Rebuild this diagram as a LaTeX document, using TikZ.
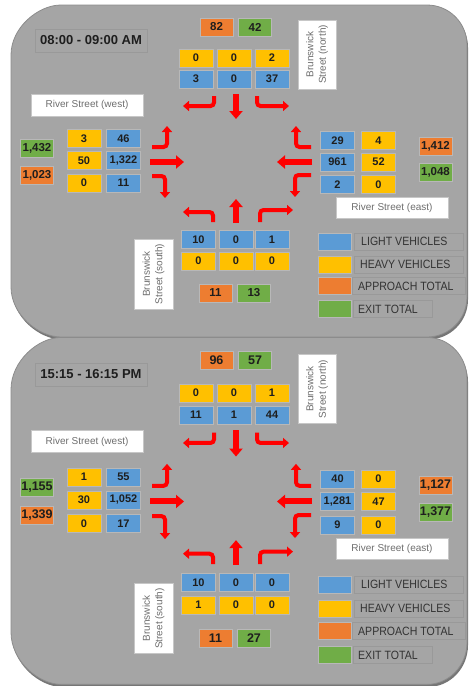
\documentclass[tikz,border=0pt]{standalone}
\usepackage{fontspec}
\usepackage{graphicx}
\setmainfont{Liberation Sans}
\usetikzlibrary{arrows.meta}
\definecolor{panelgray}{HTML}{A5A5A5}
\definecolor{panelline}{HTML}{8C8C8C}
\definecolor{shadowgray}{HTML}{767676}
\definecolor{lvblue}{HTML}{5B9BD5}
\definecolor{hvyellow}{HTML}{FFC000}
\definecolor{aporange}{HTML}{ED7D31}
\definecolor{exgreen}{HTML}{70AD47}
\definecolor{arrowred}{HTML}{FF0000}
\definecolor{labeltext}{HTML}{6E6E6E}
\definecolor{numtext}{HTML}{1E1E1E}
\definecolor{legtextc}{HTML}{333333}
\definecolor{faintline}{HTML}{999999}

\newcommand\panelpath{(11,55) .. controls (11,27.4) and (38.4,5) .. (61,5)
  -- (427,5) .. controls (449.1,5) and (467,22.9) .. (467,45)
  -- (467,297) .. controls (467,319.1) and (449.1,337) .. (427,337)
  -- (61,337) .. controls (38.4,337) and (11,314.6) .. (11,287) -- cycle}

\newcommand\staticpanel[2]{%
  \begin{scope}[shift={(1,2.5)}]
    \fill[shadowgray] \panelpath;
  \end{scope}
  \filldraw[fill=panelgray, draw=panelline, line width=0.8pt] \panelpath;
  \node[titlebox] (#1title) at (91,40.5) {#2};
  \node[streetlbl, minimum width=69pt, minimum height=38pt, rotate=90, align=center] (#1north) at (317,54.5) {Brunswick\\Street (north)};
  \node[streetlbl, minimum width=70pt, minimum height=39pt, rotate=90, align=center] (#1south) at (153.5,274) {Brunswick\\Street (south)};
  \node[streetlbl, minimum width=112pt, minimum height=22pt] (#1west) at (87,105) {River Street (west)};
  \node[streetlbl, minimum width=112pt, minimum height=21pt] (#1east) at (392,207.5) {River Street (east)};
  % legend
  \node[legsq, fill=lvblue] (#1sqlv) at (334.5,241.5) {};
  \node[legsq, fill=hvyellow] (#1sqhv) at (334.5,264.5) {};
  \node[legsq, fill=aporange] (#1sqap) at (334.5,286) {};
  \node[legsq, fill=exgreen] (#1sqex) at (334.5,309) {};
  \node[legbox, minimum width=109pt] (#1boxlv) at (408.5,241.5) {};
  \node[legbox, minimum width=109pt] (#1boxhv) at (408.5,264.5) {};
  \node[legbox, minimum width=113pt] (#1boxap) at (409,286) {};
  \node[legbox, minimum width=79pt] (#1boxex) at (392.5,309) {};
  \node[legtext] (#1txtlv) at (361,241.5) {\scalebox{0.88}[1]{LIGHT VEHICLES}};
  \node[legtext] (#1txthv) at (360,264.5) {\scalebox{0.88}[1]{HEAVY VEHICLES}};
  \node[legtext] (#1txtap) at (358,286) {\scalebox{0.88}[1]{APPROACH TOTAL}};
  \node[legtext] (#1txtex) at (358,309) {\scalebox{0.88}[1]{EXIT TOTAL}};
  % movement arrows
  \draw[turnarrow] (214,96) -- (214,106) -- (183,106);
  \draw[turnarrow] (257,96) -- (257,106) -- (289,106);
  \draw[turnarrow] (152,147) -- (167,147) -- (167,126);
  \draw[turnarrow] (152,176) -- (165,176) -- (165,198);
  \draw[turnarrow] (311,147) -- (296,147) -- (296,126);
  \draw[turnarrow] (311,175) -- (295,175) -- (295,197);
  \draw[turnarrow] (213,222) -- (213,212) -- (183,212);
  \draw[turnarrow] (260,222) -- (260,210) -- (293,210);
  \draw[thruarrow] (236,94) -- (236,119);
  \draw[thruarrow] (150,162) -- (184,162);
  \draw[thruarrow] (312,162) -- (277,162);
  \draw[thruarrow] (236,223) -- (236,199);
}

\begin{document}
\begin{tikzpicture}[x=1pt,y=-1pt,
  box/.style={draw=faintline!70!white, line width=0.4pt, inner sep=0pt, text=numtext},
  veh/.style={box, minimum width=34pt, minimum height=18pt, font=\bfseries\fontsize{11}{11}\selectfont},
  lv/.style={veh, fill=lvblue},
  hv/.style={veh, fill=hvyellow},
  tot/.style={box, minimum width=33pt, minimum height=18pt, font=\bfseries\fontsize{11.5}{11.5}\selectfont},
  ap/.style={tot, fill=aporange},
  ex/.style={tot, fill=exgreen},
  titlebox/.style={draw=faintline, line width=0.5pt, fill=panelgray, minimum width=112pt, minimum height=23pt, inner sep=0pt, text=numtext, font=\bfseries\fontsize{13}{13}\selectfont},
  streetlbl/.style={draw=black!22, line width=1pt, fill=white, inner sep=0pt, text=labeltext, font=\fontsize{10}{12.5}\selectfont},
  legsq/.style={box, minimum width=33pt, minimum height=17pt},
  legbox/.style={draw=faintline, line width=0.5pt, minimum height=17pt, inner sep=0pt},
  legtext/.style={anchor=west, inner sep=0pt, text=legtextc, font=\fontsize{12}{12}\selectfont},
  turnarrow/.style={draw=arrowred, line width=4pt, rounded corners=3.5pt, -{Triangle[length=6pt,width=10pt]}},
  thruarrow/.style={draw=arrowred, line width=6pt, -{Triangle[length=8pt,width=13pt]}}]
\useasboundingbox (0,0) rectangle (470,686);

% ---------------- morning panel ----------------
\begin{scope}
\staticpanel{a}{08:00 - 09:00 AM}
\node[ap] (aNap) at (216.5,27) {82};
\node[ex] (aNex) at (255,27) {42};
\node[hv] (aNh1) at (196,58) {0};
\node[hv] (aNh2) at (234,58) {0};
\node[hv] (aNh3) at (272,58) {2};
\node[lv] (aNl1) at (196,79) {3};
\node[lv] (aNl2) at (234,79) {0};
\node[lv] (aNl3) at (272,79) {37};
\node[hv] (aWh1) at (84,138.5) {3};
\node[hv] (aWh2) at (84,160.5) {50};
\node[hv] (aWh3) at (84,183) {0};
\node[lv] (aWl1) at (123.5,138.5) {46};
\node[lv] (aWl2) at (123.5,160.5) {1,322};
\node[lv] (aWl3) at (123.5,183) {11};
\node[ex] (aWex) at (37,148) {1,432};
\node[ap] (aWap) at (37,175) {1,023};
\node[lv] (aEl1) at (337.5,140.5) {29};
\node[lv] (aEl2) at (337.5,162) {961};
\node[lv] (aEl3) at (337.5,184.5) {2};
\node[hv] (aEh1) at (378.5,140.5) {4};
\node[hv] (aEh2) at (378.5,162) {52};
\node[hv] (aEh3) at (378.5,184.5) {0};
\node[ap] (aEap) at (435.5,146.5) {1,412};
\node[ex] (aEex) at (435.5,172) {1,048};
\node[lv] (aSl1) at (198.5,239.5) {10};
\node[lv] (aSl2) at (236,239.5) {0};
\node[lv] (aSl3) at (272,239.5) {1};
\node[hv] (aSh1) at (198.5,261) {0};
\node[hv] (aSh2) at (236,261) {0};
\node[hv] (aSh3) at (272,261) {0};
\node[ap] (aSap) at (215.5,293) {11};
\node[ex] (aSex) at (254,293) {13};
\end{scope}

% ---------------- afternoon panel ----------------
\begin{scope}[yshift=-332.19pt, yscale=1.045,
  tot/.append style={font=\bfseries\fontsize{12.5}{12.5}\selectfont}]
\staticpanel{b}{15:15 - 16:15 PM}
\node[ap] (bNap) at (216.5,27) {96};
\node[ex] (bNex) at (255,27) {57};
\node[hv] (bNh1) at (196,58) {0};
\node[hv] (bNh2) at (234,58) {0};
\node[hv] (bNh3) at (272,58) {1};
\node[lv] (bNl1) at (196,79) {11};
\node[lv] (bNl2) at (234,79) {1};
\node[lv] (bNl3) at (272,79) {44};
\node[hv] (bWh1) at (84,138.5) {1};
\node[hv] (bWh2) at (84,160.5) {30};
\node[hv] (bWh3) at (84,183) {0};
\node[lv] (bWl1) at (123.5,138.5) {55};
\node[lv] (bWl2) at (123.5,160.5) {1,052};
\node[lv] (bWl3) at (123.5,183) {17};
\node[ex] (bWex) at (37,148) {1,155};
\node[ap] (bWap) at (37,175) {1,339};
\node[lv] (bEl1) at (337.5,140.5) {40};
\node[lv] (bEl2) at (337.5,162) {1,281};
\node[lv] (bEl3) at (337.5,184.5) {9};
\node[hv] (bEh1) at (378.5,140.5) {0};
\node[hv] (bEh2) at (378.5,162) {47};
\node[hv] (bEh3) at (378.5,184.5) {0};
\node[ap] (bEap) at (435.5,146.5) {1,127};
\node[ex] (bEex) at (435.5,172) {1,377};
\node[lv] (bSl1) at (198.5,239.5) {10};
\node[lv] (bSl2) at (236,239.5) {0};
\node[lv] (bSl3) at (272,239.5) {0};
\node[hv] (bSh1) at (198.5,261) {1};
\node[hv] (bSh2) at (236,261) {0};
\node[hv] (bSh3) at (272,261) {0};
\node[ap] (bSap) at (215.5,293) {11};
\node[ex] (bSex) at (254,293) {27};
\end{scope}
\end{tikzpicture}
\end{document}
